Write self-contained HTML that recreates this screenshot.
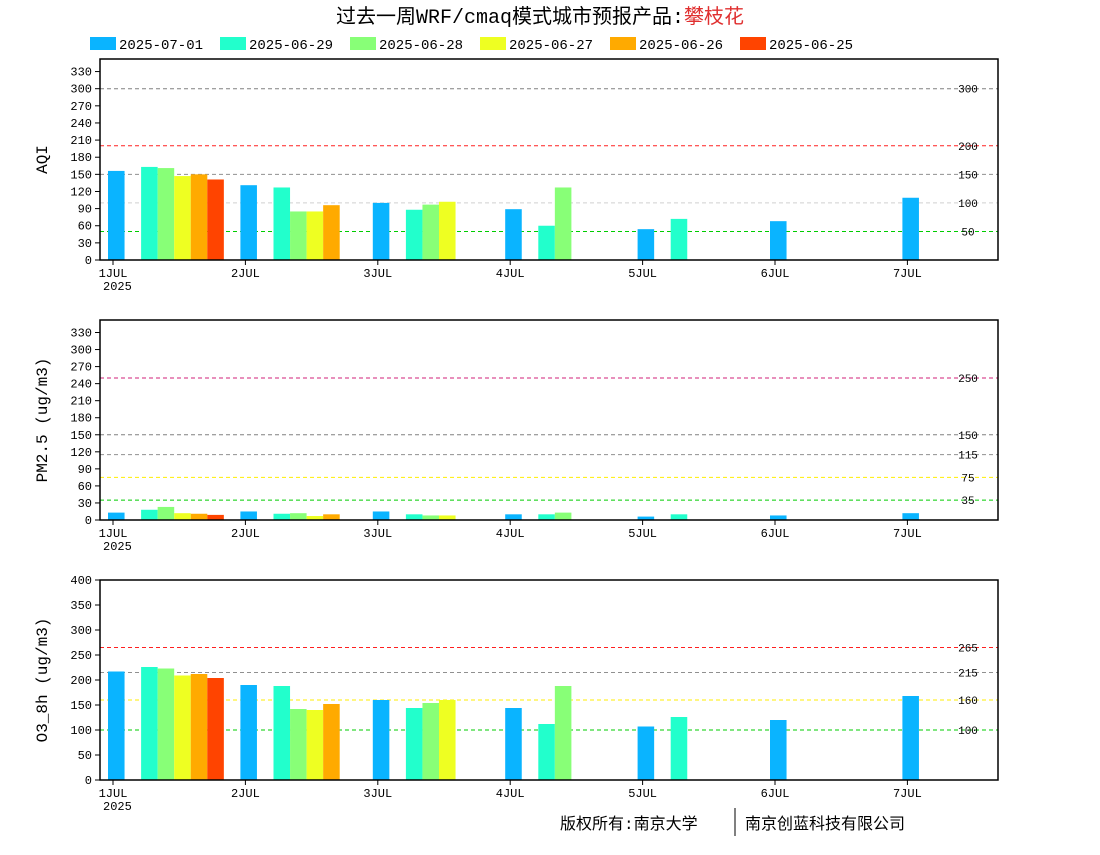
<!DOCTYPE html>
<html><head><meta charset="utf-8"><style>
body{margin:0;background:#fff;width:1100px;height:850px;overflow:hidden}
svg text{font-family:"Liberation Mono","Noto Sans CJK SC",monospace}
</style></head><body>
<svg id="c" width="1100" height="850" xmlns="http://www.w3.org/2000/svg">
<text x="540" y="23" text-anchor="middle" font-size="20" font-family="Liberation Serif,Noto Serif CJK SC,serif">过去一周WRF/cmaq模式城市预报产品:<tspan fill="#e03030">攀枝花</tspan></text>
<g id="legend"></g>
<g id="plots"></g>
<text x="560" y="829" font-size="16" font-family="Liberation Serif,Noto Serif CJK SC,serif">版权所有:南京大学</text>
<line x1="735" y1="808" x2="735" y2="836" stroke="#000"/>
<text x="745" y="829" font-size="16" font-family="Liberation Serif,Noto Serif CJK SC,serif">南京创蓝科技有限公司</text>
</svg>
<script>
const series=["2025-07-01","2025-06-29","2025-06-28","2025-06-27","2025-06-26","2025-06-25"];
const colors=["#0ab4ff","#22ffcc","#88ff77","#eeff22","#ffaa00","#ff4400"];
const dayLabels=["1JUL","2JUL","3JUL","4JUL","5JUL","6JUL","7JUL"];
const aqi0701=[156,131,100,89,54,68,109];
const aqi0629=[163,127,88,60,72];
const aqi0628=[161,85,97,127];
const aqi0627=[147,85,102];
const aqi0626=[150,96];
const aqi0625=[141];
const pm0701=[13,15,15,10,6,8,12];
const pm0629=[18,11,10,10,10];
const pm0628=[23,12,8,13];
const pm0627=[12,7,8];
const pm0626=[11,10];
const pm0625=[9];
const o30701=[217,190,160,144,107,120,168];
const o30629=[226,188,144,112,126];
const o30628=[223,142,154,188];
const o30627=[209,140,160];
const o30626=[212,152];
const o30625=[204];
const aqiTicks=[0,30,60,90,120,150,180,210,240,270,300,330];
const pmTicks=[0,30,60,90,120,150,180,210,240,270,300,330];
const o3Ticks=[0,50,100,150,200,250,300,350,400];
const aqiRefs=[300,200,150,100,50];
const aqiRefColors=["#808080","#ff2020","#909090","#d0d0d0","#00cc00"];
const pmRefs=[250,150,115,75,35];
const pmRefColors=["#d0207a","#808080","#909090","#ffee00","#00cc00"];
const o3Refs=[265,215,160,100];
const o3RefColors=["#ff2020","#909090","#ffee00","#00cc00"];
const NS="http://www.w3.org/2000/svg";
const svg=document.getElementById('plots');
function mk(t,a,p){const e=document.createElementNS(NS,t);for(const k in a)e.setAttribute(k,a[k]);(p||svg).appendChild(e);return e;}
// legend
const lg=document.getElementById('legend');
series.forEach((s,i)=>{const x=90+i*130;
const r=mk('rect',{x:x,y:37,width:26,height:13,fill:colors[i]},lg);


const t=mk('text',{x:x+29,y:49,'font-size':14},lg);t.textContent=s;

});
function plot(name,top,bottom,ymax,ticks,refs,refColors,data,ylabel){
const L=100,R=998;
const g=mk('g',{});
const y=v=>bottom-(v/ymax)*(bottom-top);
const slot=132.4/8;
const xs=(d,k)=>108+d*132.4+k*slot;
refs.forEach((v,i)=>{const l=mk('line',{x1:L,x2:R,y1:y(v),y2:y(v),stroke:refColors[i],'stroke-dasharray':'4,3'},g);

const t=mk('text',{x:968,y:y(v)+4,'font-size':11,'text-anchor':'middle'},g);t.textContent=v;
});
const offs=[0,2,3,4,5,6];
data.forEach((arr,si)=>arr.forEach((v,d)=>{const b=mk('rect',{x:xs(d,offs[si]),y:y(v),width:slot,height:bottom-y(v),fill:colors[si]},g);
}));
mk('rect',{x:L,y:top,width:R-L,height:bottom-top,fill:'none',stroke:'#000','stroke-width':1.5},g);
ticks.forEach(v=>{mk('line',{x1:L-5,x2:L,y1:y(v),y2:y(v),stroke:'#000'},g);
const t=mk('text',{x:L-8,y:y(v)+4,'font-size':12,'text-anchor':'end'},g);t.textContent=v;
});
dayLabels.forEach((lab,d)=>{const x=113+d*132.4;mk('line',{x1:x,x2:x,y1:bottom,y2:bottom+5,stroke:'#000'},g);
const t=mk('text',{x:x,y:bottom+17,'font-size':12,'text-anchor':'middle'},g);t.textContent=lab;
});
const yr=mk('text',{x:103,y:bottom+30,'font-size':12},g);yr.textContent='2025';
const yl=mk('text',{x:0,y:0,'font-size':16,'text-anchor':'middle',transform:`translate(47,${(top+bottom)/2}) rotate(-90)`},g);yl.textContent=ylabel;
}
plot('aqi',59,260,352,aqiTicks,aqiRefs,aqiRefColors,[aqi0701,aqi0629,aqi0628,aqi0627,aqi0626,aqi0625],'AQI');
plot('pm25',320,520,352,pmTicks,pmRefs,pmRefColors,[pm0701,pm0629,pm0628,pm0627,pm0626,pm0625],'PM2.5 (ug/m3)');
plot('o3',580,780,400,o3Ticks,o3Refs,o3RefColors,[o30701,o30629,o30628,o30627,o30626,o30625],'O3_8h (ug/m3)');
</script>
</body></html>
